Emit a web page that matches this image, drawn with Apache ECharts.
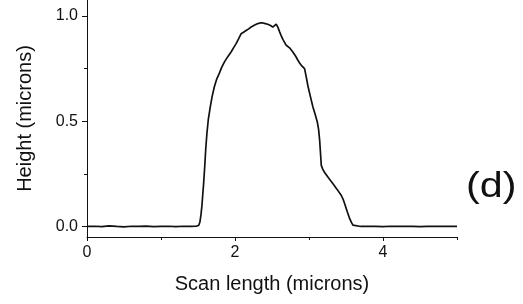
<!DOCTYPE html>
<html>
<head>
<meta charset="utf-8">
<script src="https://cdn.jsdelivr.net/npm/echarts@6/dist/echarts.min.js"></script>
<style>
html,body{margin:0;padding:0;background:#fff;}
#chart{width:523px;height:304px;}
</style>
</head>
<body>
<div id="chart"></div>
<script>
// Scan length (microns)
const scanX = [
  0.00, 0.10, 0.20, 0.30, 0.40, 0.50, 0.60, 0.70, 0.80, 0.90, 1.00, 1.10, 1.20, 1.30, 1.40, 1.48,
  1.510, 1.525, 1.540, 1.552, 1.562, 1.575, 1.590, 1.605, 1.620, 1.640, 1.667, 1.690, 1.720, 1.750,
  1.789, 1.820, 1.856, 1.900, 1.947, 1.980, 2.015, 2.050, 2.083, 2.115, 2.150, 2.185, 2.218, 2.260,
  2.308, 2.340, 2.376, 2.410, 2.443, 2.480, 2.511, 2.535, 2.557, 2.580, 2.602, 2.625, 2.647, 2.692,
  2.737, 2.782, 2.820, 2.850, 2.875, 2.896, 2.920, 2.940, 2.960, 2.985, 3.020, 3.053, 3.085, 3.112,
  3.130, 3.144, 3.155, 3.166, 3.185, 3.211, 3.260, 3.324, 3.380, 3.437, 3.460, 3.482, 3.515, 3.550,
  3.575, 3.595, 3.620, 3.700, 3.800, 3.900, 4.000, 4.100, 4.200, 4.300, 4.400, 4.500, 4.600, 4.700,
  4.800, 4.900, 5.000
];
// Height (microns)
const heightY = [
  0.000, 0.001, -0.001, 0.003, 0.000, -0.002, 0.001, 0.000, 0.002, -0.001, 0.000, 0.001, -0.001, 0.001, 0.000, 0.001,
  0.006, 0.020, 0.055, 0.095, 0.140, 0.200, 0.280, 0.370, 0.440, 0.510, 0.570, 0.615, 0.662, 0.697,
  0.728, 0.755, 0.780, 0.805, 0.828, 0.848, 0.868, 0.892, 0.915, 0.922, 0.930, 0.938, 0.947, 0.955,
  0.963, 0.966, 0.966, 0.963, 0.960, 0.954, 0.946, 0.950, 0.961, 0.945, 0.925, 0.905, 0.888, 0.860,
  0.848, 0.828, 0.808, 0.789, 0.775, 0.765, 0.757, 0.749, 0.715, 0.668, 0.615, 0.567, 0.530, 0.496,
  0.460, 0.409, 0.350, 0.290, 0.272, 0.256, 0.232, 0.203, 0.176, 0.147, 0.130, 0.108, 0.072, 0.037,
  0.018, 0.006, 0.001, 0.000, 0.001, 0.000, -0.001, 0.001, 0.000, 0.001, 0.000, -0.001, 0.000, 0.001,
  0.000, 0.001, 0.000
];
const xMajorTicks = [0, 2, 4];
const xMinorTicks = [1, 3, 5];
const yMajorTicks = [0, 0.5, 1.0];
const yMinorTicks = [0.25, 0.75];
const xTitle = 'Scan length (microns)';
const yTitle = 'Height (microns)';
const panelLabel = '(d)';

const FONT = 'Liberation Sans, Arial, sans-serif';
const INK = '#111111';
const X_MIN = 0, X_MAX = 5, Y_MIN = -0.05, Y_MAX = 1.075;

const chart = echarts.init(document.getElementById('chart'), null, {renderer: 'canvas'});
chart.setOption({
  animation: false,
  backgroundColor: '#ffffff',
  grid: {left: 87, right: 66, top: 0, bottom: 67, containLabel: false},
  xAxis: [
    {
      type: 'value', min: X_MIN, max: X_MAX, position: 'bottom',
      name: xTitle, nameLocation: 'middle', nameGap: 37,
      nameTextStyle: {fontFamily: FONT, fontSize: 20, color: INK},
      axisLine: {show: true, onZero: false, lineStyle: {color: INK, width: 1}},
      axisTick: {show: true, inside: false, length: 4, customValues: xMajorTicks, lineStyle: {color: INK}},
      axisLabel: {show: true, margin: 8, customValues: xMajorTicks, fontFamily: FONT, fontSize: 16, color: INK,
        formatter: v => String(v)},
      splitLine: {show: false}
    },
    {
      type: 'value', min: X_MIN, max: X_MAX, position: 'bottom', gridIndex: 0,
      axisLine: {show: false, onZero: false},
      axisTick: {show: true, inside: false, length: 3, customValues: xMinorTicks, lineStyle: {color: INK}},
      axisLabel: {show: false},
      splitLine: {show: false}
    }
  ],
  yAxis: [
    {
      type: 'value', min: Y_MIN, max: Y_MAX, position: 'left',
      name: yTitle, nameLocation: 'middle', nameGap: 52, nameRotate: 90,
      nameTextStyle: {fontFamily: FONT, fontSize: 20, color: INK},
      axisLine: {show: true, onZero: false, lineStyle: {color: INK, width: 1}},
      axisTick: {show: true, inside: false, length: 5, customValues: yMajorTicks, lineStyle: {color: INK}},
      axisLabel: {show: true, margin: 9, customValues: yMajorTicks, fontFamily: FONT, fontSize: 16, color: INK,
        formatter: v => v.toFixed(1)},
      splitLine: {show: false}
    },
    {
      type: 'value', min: Y_MIN, max: Y_MAX, position: 'left',
      axisLine: {show: false, onZero: false},
      axisTick: {show: true, inside: false, length: 3, customValues: yMinorTicks, lineStyle: {color: INK}},
      axisLabel: {show: false},
      splitLine: {show: false}
    }
  ],
  graphic: [
    {type: 'text', left: 466, top: 170, scaleX: 1.18,
      style: {text: panelLabel, fontFamily: FONT, fontSize: 35, fill: '#111'}}
  ],
  series: [
    {
      type: 'line', xAxisIndex: 0, yAxisIndex: 0,
      data: scanX.map((x, i) => [x, heightY[i]]),
      showSymbol: false, symbol: 'none', smooth: false,
      lineStyle: {color: '#111', width: 1.7},
      clip: true
    }
  ]
});
</script>
</body>
</html>
